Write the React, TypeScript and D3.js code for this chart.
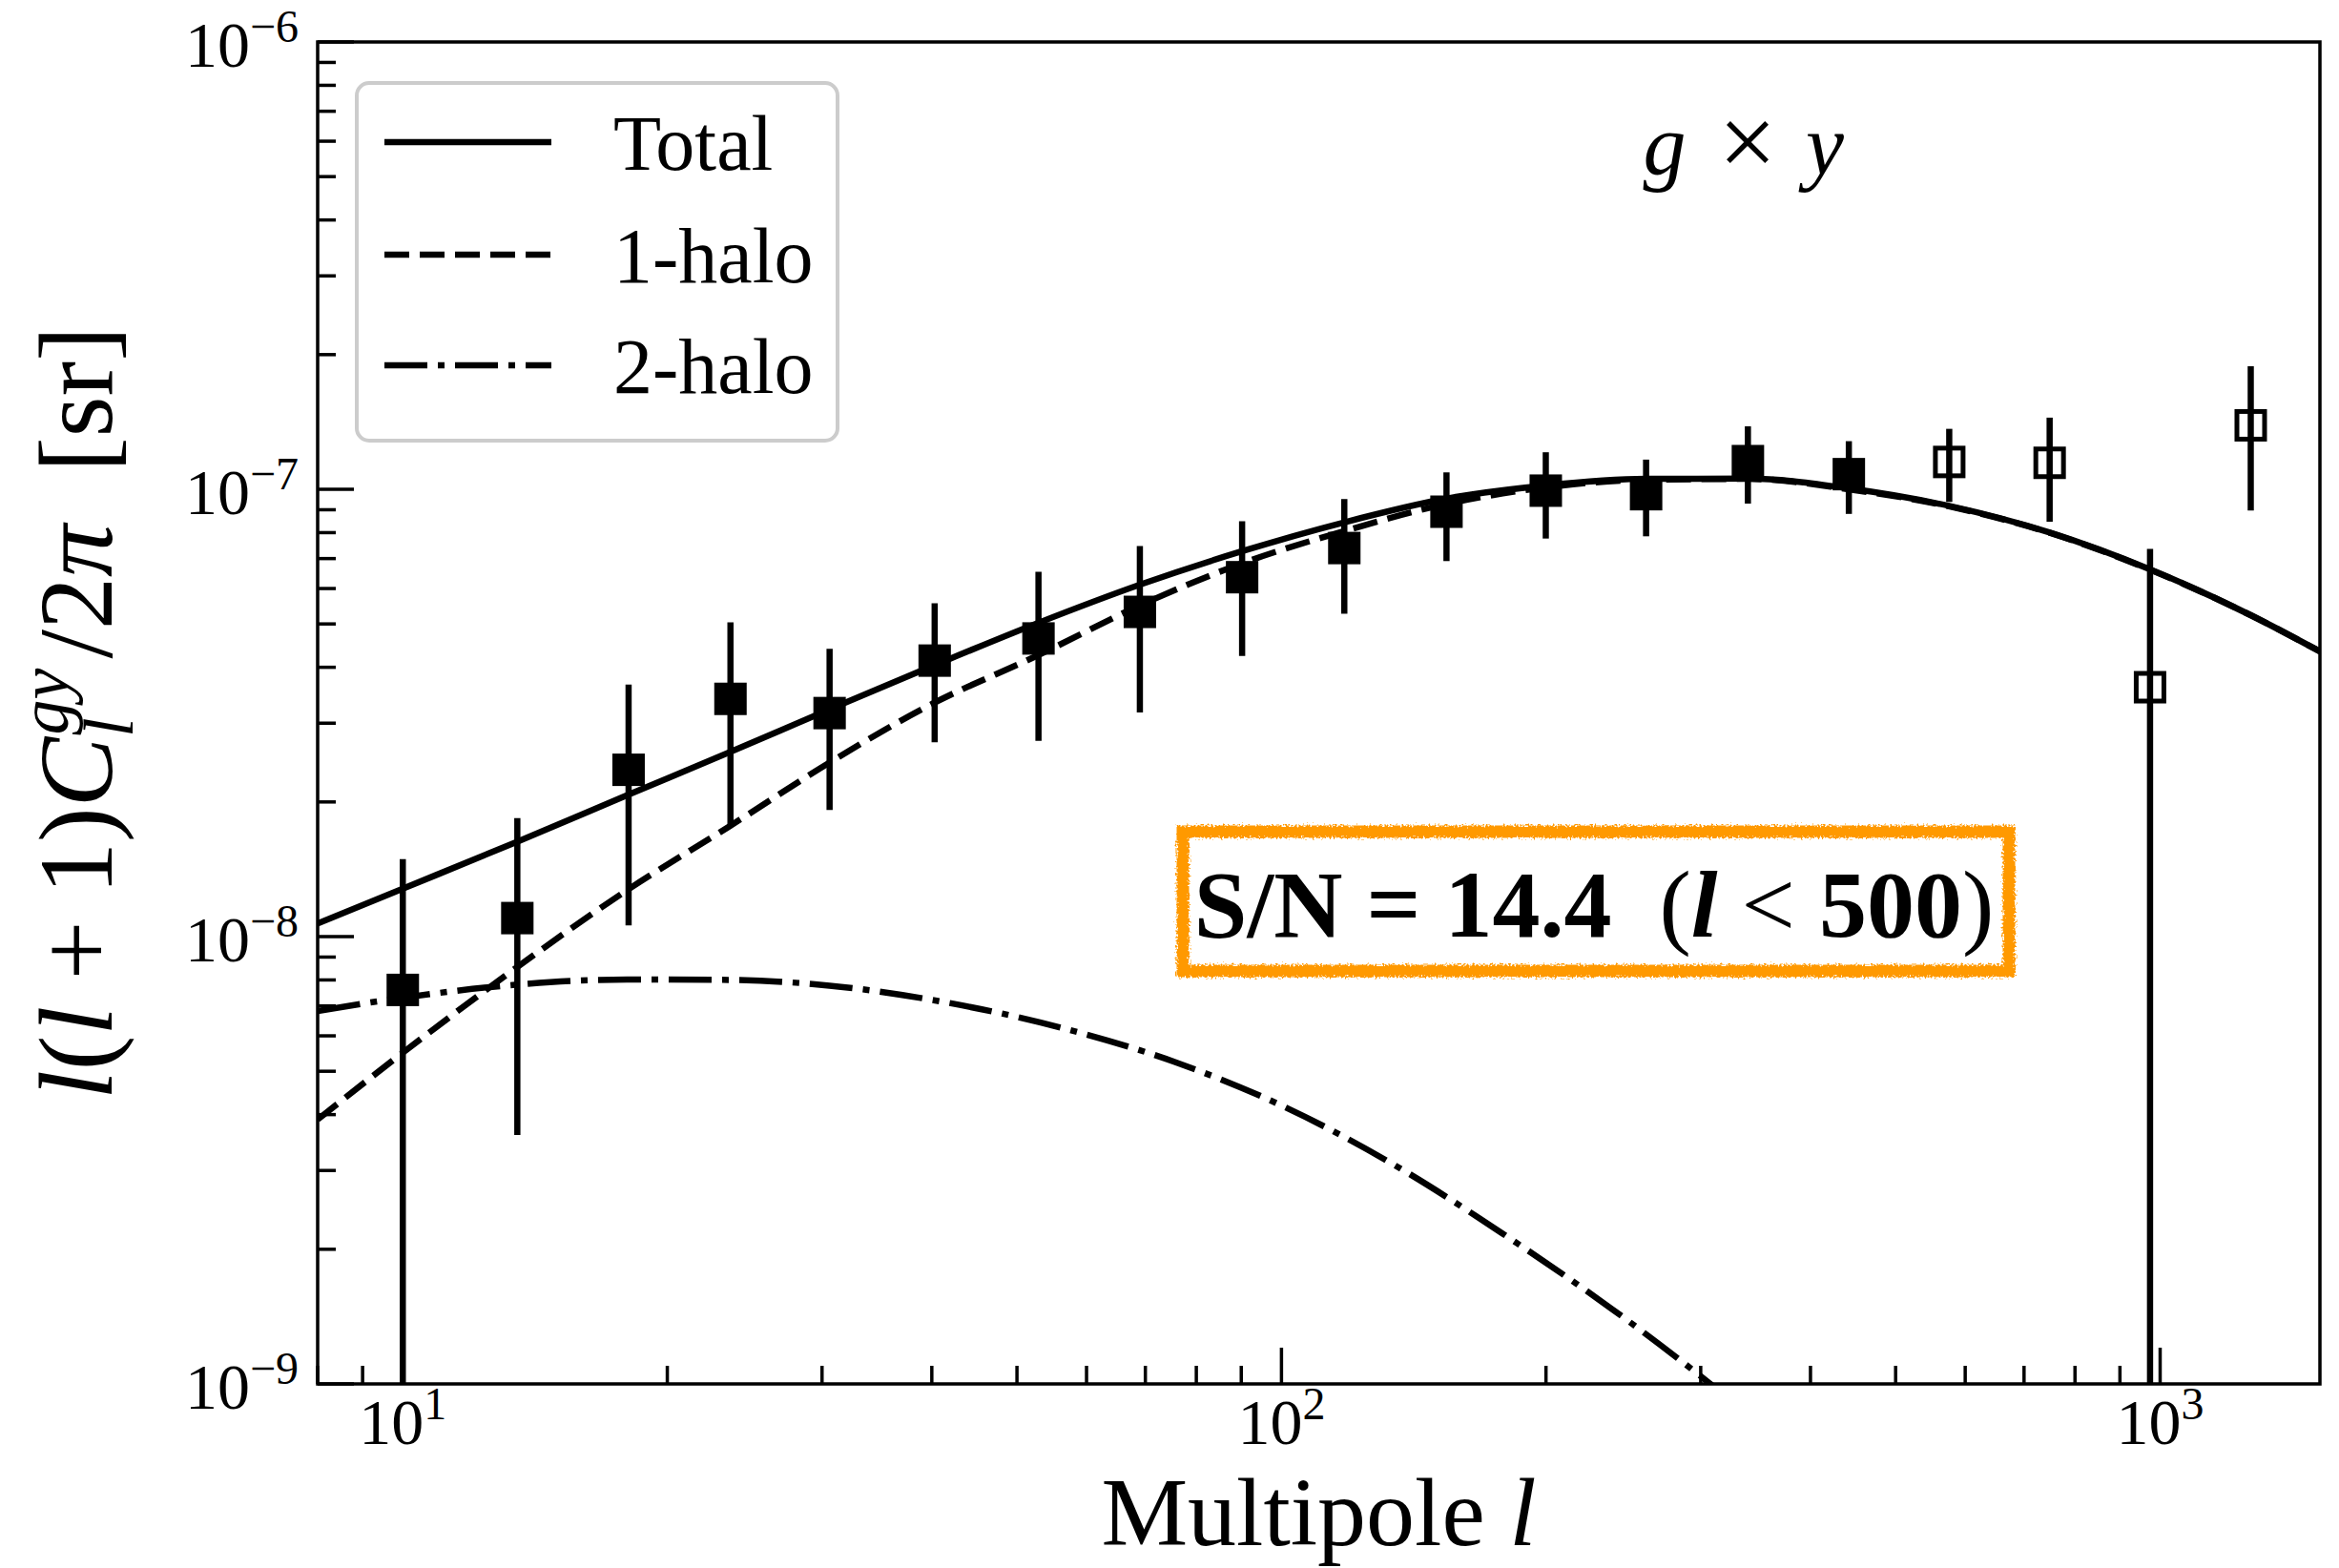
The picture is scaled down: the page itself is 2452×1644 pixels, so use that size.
import React from 'react';
import * as d3 from 'd3';

// ---- curves (model) ----
const curveL = [8, 10, 13.5, 18, 23.6, 30.6, 40, 52.9, 69, 90, 118, 154, 200, 260, 340, 442, 575, 749, 974, 1268, 1523];
const totalVals = [1.07e-8, 1.28e-8, 1.63e-8, 2.07e-8, 2.59e-8, 3.22e-8, 4.02e-8, 5.03e-8, 6.12e-8, 7.26e-8, 8.44e-8, 9.53e-8, 1.02e-7, 1.055e-7, 1.057e-7, 1.005e-7, 9.18e-8, 8.0e-8, 6.62e-8, 5.23e-8, 4.33e-8];
const oneHaloVals = [3.9e-9, 5.5e-9, 8.55e-9, 1.27e-8, 1.77e-8, 2.45e-8, 3.31e-8, 4.26e-8, 5.5e-8, 6.82e-8, 8.07e-8, 9.27e-8, 1.01e-7, 1.05e-7, 1.055e-7, 1.0e-7, 9.16e-8, 7.99e-8, 6.61e-8, 5.23e-8, 4.33e-8];
const twoHaloL = [8, 10, 13.5, 18, 23.6, 30.6, 40, 56.6, 75.5, 100.6, 133.9, 178.4, 237.8, 307.7, 400];
const twoHaloVals = [6.82e-9, 7.3e-9, 7.81e-9, 8.02e-9, 8.0e-9, 7.77e-9, 7.22e-9, 6.23e-9, 5.25e-9, 4.17e-9, 3.1e-9, 2.17e-9, 1.47e-9, 1.0e-9, 6.5e-10];

// ---- measurements ----
const filledL = [10, 13.5, 18.07, 23.6, 30.6, 40.3, 52.9, 69.0, 90.2, 117.9, 154.1, 199.9, 260.0, 339.5, 442.3];
const filledVals = [7.6e-9, 1.10e-8, 2.36e-8, 3.40e-8, 3.16e-8, 4.14e-8, 4.64e-8, 5.32e-8, 6.36e-8, 7.39e-8, 8.91e-8, 9.93e-8, 9.75e-8, 1.156e-7, 1.081e-7];
const filledErr = [7.3e-9, 7.4e-9, 1.3e-8, 1.64e-8, 1.24e-8, 1.42e-8, 1.9e-8, 2.15e-8, 2.12e-8, 2.12e-8, 2.0e-8, 2.17e-8, 1.9e-8, 2.27e-8, 2.0e-8];
const openL = [575.4, 748.6, 973.9, 1268];
const openVals = [1.151e-7, 1.146e-7, 3.61e-8, 1.39e-7];
const openErr = [2.14e-8, 3.0e-8, 3.75e-8, 4.94e-8];

// ---- axes ----
const xDomain = [8, 1520];
const yDomain = [1e-9, 1e-6];
const xTickExps = [1, 2, 3];
const yTickExps = [-9, -8, -7, -6];
const legendLabels = ['Total', '1-halo', '2-halo'];

const FONT = "'Liberation Serif', 'Times New Roman', serif";

export default function App() {
  const W = 2452, H = 1644;
  const L = 333, R = 2432, T = 44, B = 1451;
  const x = d3.scaleLog().domain(xDomain).range([L, R]);
  const y = d3.scaleLog().domain(yDomain).range([B, T]);
  const line = d3.line<[number, number]>()
    .x(d => x(d[0]))
    .y(d => y(d[1]))
    .curve(d3.curveMonotoneX);

  const totalPath = line(curveL.map((l, i) => [l, totalVals[i]]) as [number, number][]) || '';
  const oneHaloPath = line(curveL.map((l, i) => [l, oneHaloVals[i]]) as [number, number][]) || '';
  const twoHaloPath = line(twoHaloL.map((l, i) => [l, twoHaloVals[i]]) as [number, number][]) || '';

  const lw = 6.5;
  const dashed = '26 11';
  const dashdot = '45 11 7 11';

  const isMajor = (t: number) => Math.abs(Math.log10(t) - Math.round(Math.log10(t))) < 1e-6;
  const xt = x.ticks().filter(t => t >= xDomain[0] && t <= xDomain[1]);
  const yt = y.ticks().filter(t => t >= yDomain[0] && t <= yDomain[1]);
  const majLen = 38, minLen = 19, tickW = 3.5;

  const errLow = (v: number, e: number) => Math.max(v - e, 1e-13);
  const sq = 34;

  const legendRows = [149, 267, 383];
  const legendDash = ['none', dashed, dashdot];

  return (
    <div style={{ position: 'absolute', left: 0, top: 0 }}>
      <svg width={W} height={H} style={{ display: 'block' }} fontFamily={FONT}>
        <defs>
          <clipPath id="plotclip">
            <rect x={L} y={T} width={R - L} height={B - T} />
          </clipPath>
          <filter id="rough" x="-5%" y="-20%" width="110%" height="140%">
            <feTurbulence type="fractalNoise" baseFrequency="0.5" numOctaves="2" seed="3" result="noise" />
            <feDisplacementMap in="SourceGraphic" in2="noise" scale="9" xChannelSelector="R" yChannelSelector="G" />
          </filter>
        </defs>
        <rect x={0} y={0} width={W} height={H} fill="#ffffff" />

        {/* curves */}
        <g clipPath="url(#plotclip)" fill="none" stroke="#000" strokeWidth={lw}>
          <path d={totalPath} />
          <path d={oneHaloPath} strokeDasharray={dashed} />
          <path d={twoHaloPath} strokeDasharray={dashdot} />
        </g>

        {/* data */}
        <g clipPath="url(#plotclip)">
          {filledL.map((l, i) => (
            <line key={'fe' + i} x1={x(l)} x2={x(l)} y1={y(filledVals[i] + filledErr[i])} y2={y(errLow(filledVals[i], filledErr[i]))} stroke="#000" strokeWidth={6.5} />
          ))}
          {filledL.map((l, i) => (
            <rect key={'fs' + i} x={x(l) - sq / 2} y={y(filledVals[i]) - sq / 2} width={sq} height={sq} fill="#000" />
          ))}
          {openL.map((l, i) => (
            <line key={'oe' + i} x1={x(l)} x2={x(l)} y1={y(openVals[i] + openErr[i])} y2={y(errLow(openVals[i], openErr[i]))} stroke="#000" strokeWidth={6.5} />
          ))}
          {openL.map((l, i) => (
            <rect key={'os' + i} x={x(l) - (sq - 5) / 2} y={y(openVals[i]) - (sq - 5) / 2} width={sq - 5} height={sq - 5} fill="#fff" stroke="#000" strokeWidth={5} />
          ))}
          {openL.map((l, i) => (
            <line key={'oi' + i} x1={x(l)} x2={x(l)} y1={y(openVals[i]) - (sq - 5) / 2} y2={y(openVals[i]) + (sq - 5) / 2} stroke="#000" strokeWidth={6.5} />
          ))}
        </g>

        {/* ticks */}
        <g stroke="#000" strokeWidth={tickW}>
          {xt.map((t, i) => (
            <line key={'xt' + i} x1={x(t)} x2={x(t)} y1={B} y2={B - (isMajor(t) ? majLen : minLen)} />
          ))}
          {yt.map((t, i) => (
            <line key={'yt' + i} x1={L} x2={L + (isMajor(t) ? majLen : minLen)} y1={y(t)} y2={y(t)} />
          ))}
        </g>

        {/* spines */}
        <rect x={L} y={T} width={R - L} height={B - T} fill="none" stroke="#000" strokeWidth={3.5} />

        {/* tick labels */}
        <g fill="#000">
          {xTickExps.map(e => (
            <text key={'xl' + e} x={x(Math.pow(10, e))} y={1514} textAnchor="middle" fontSize={68}>
              10<tspan dy={-26} fontSize={48}>{e}</tspan>
            </text>
          ))}
          {yTickExps.map(e => (
            <text key={'yl' + e} x={313} y={y(Math.pow(10, e)) + 26} textAnchor="end" fontSize={68}>
              10<tspan dy={-26} fontSize={48}>{'\u2212' + (-e)}</tspan>
            </text>
          ))}
        </g>

        {/* axis labels */}
        <text x={(L + R) / 2} y={1620} textAnchor="middle" fontSize={102}>
          Multipole <tspan fontStyle="italic">l</tspan>
        </text>
        <text transform={`translate(117, ${(T + B) / 2}) rotate(-90)`} textAnchor="middle" fontSize={110} style={{ whiteSpace: 'pre' }}>
          <tspan fontStyle="italic">l</tspan>(<tspan fontStyle="italic">l</tspan> + 1)<tspan fontStyle="italic">C</tspan>
          <tspan fontStyle="italic" fontSize={74} dy={22}>l</tspan>
          <tspan fontStyle="italic" fontSize={74} dx={-18} dy={-68}>gy</tspan>
          <tspan dx={10} dy={46}>/2</tspan><tspan fontStyle="italic">{'\u03c0'}</tspan>{'  [sr]'}
        </text>

        {/* legend */}
        <rect x={374} y={87} width={504} height={375} rx={13} ry={13} fill="#fff" fillOpacity={0.8} stroke="#cccccc" strokeWidth={4} />
        {legendLabels.map((lab, i) => (
          <g key={'lg' + i}>
            <line x1={403} x2={578} y1={legendRows[i]} y2={legendRows[i]} stroke="#000" strokeWidth={lw} strokeDasharray={legendDash[i]} />
            <text x={643} y={legendRows[i] + 29} fontSize={82}>{lab}</text>
          </g>
        ))}

        {/* annotation g x y */}
        <text x={1745} y={183} textAnchor="middle" fontSize={90} fontStyle="italic">g</text>
        <text x={1832} y={185} textAnchor="middle" fontSize={108}>{'\u00d7'}</text>
        <text x={1913} y={183} textAnchor="middle" fontSize={90} fontStyle="italic">y</text>

        {/* S/N box */}
        <rect x={1240} y={872} width={866} height={146} fill="#fff" stroke="#ff9900" strokeWidth={13} filter="url(#rough)" />
        <text x={1671} y={982} textAnchor="middle" fontSize={100} fontWeight="bold" style={{ whiteSpace: 'pre' }}>
          {'S/N = 14.4  '}<tspan fontWeight="normal">(</tspan><tspan fontStyle="italic">l</tspan><tspan fontWeight="normal">{' < '}</tspan>500<tspan fontWeight="normal">)</tspan>
        </text>
      </svg>
    </div>
  );
}
